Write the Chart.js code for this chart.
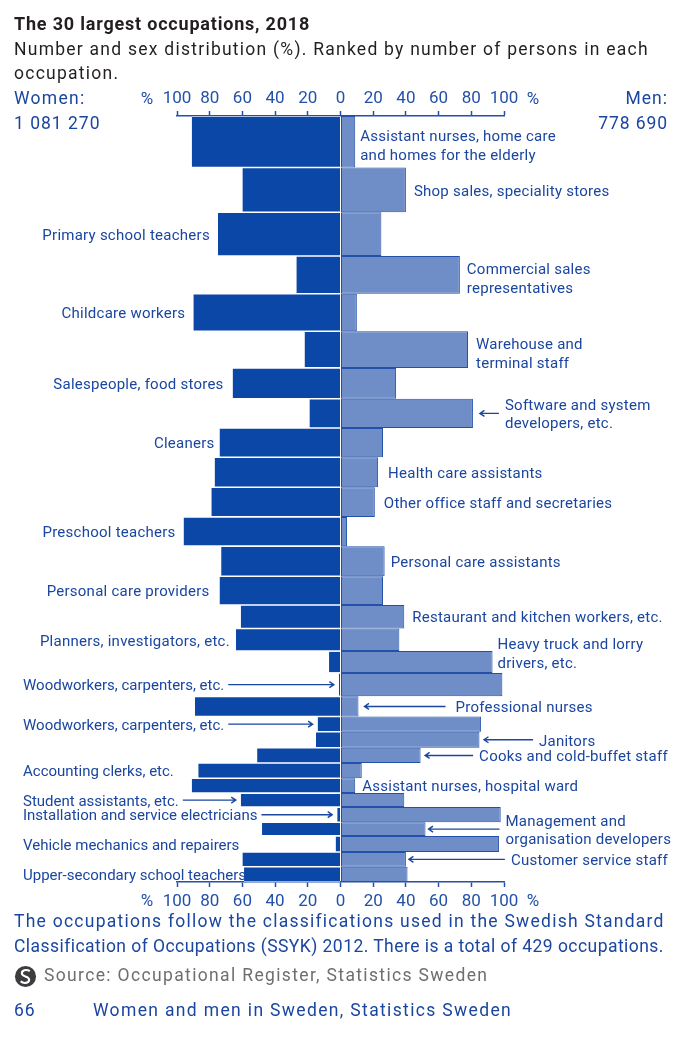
<!DOCTYPE html>
<html>
<head>
<meta charset="utf-8">
<script src="https://cdn.jsdelivr.net/npm/chart.js@4.4.1/dist/chart.umd.min.js"></script>
<style>
  html, body { margin: 0; padding: 0; background: #fff; }
  body { width: 699px; height: 1053px; position: relative; overflow: hidden; font-family: Roboto, "Noto Sans", sans-serif; }
  #wrap { position: absolute; left: 0; top: 0; width: 699px; height: 1053px; }
  .t { position: absolute; white-space: nowrap; line-height: 1; font-size: 17.5px; }
  .blue { color: #1b46a0; }
  #title { left: 14px; top: 15px; font-size: 18px; font-weight: bold; color: #231f20; letter-spacing: 0.8px; }
  #sub1 { left: 14px; top: 41px; color: #231f20; letter-spacing: 1.25px; }
  #sub2 { left: 14px; top: 65px; color: #231f20; letter-spacing: 1.25px; }
  #wLab { left: 14px; top: 90px; letter-spacing: 1.3px; }
  #wVal { left: 14px; top: 114.5px; letter-spacing: 1px; }
  #mLab { right: 31px; top: 90px; text-align: right; letter-spacing: 1px; }
  #mVal { right: 31px; top: 114.5px; text-align: right; letter-spacing: 0.9px; }
  #note1 { left: 14px; top: 913px; letter-spacing: 1.25px; }
  #note2 { left: 14px; top: 938px; letter-spacing: 0.45px; }
  #logo { position: absolute; left: 14px; top: 965px; width: 23px; height: 23px; }
  #source { left: 44px; top: 967px; color: #6d6e71; letter-spacing: 1.35px; }
  #page { left: 14px; top: 1002px; letter-spacing: 1px; }
  #pub { left: 93px; top: 1002px; letter-spacing: 1.35px; }
</style>
</head>
<body>
<div id="wrap"><canvas id="chart"></canvas></div>
<div class="t" id="title">The 30 largest occupations, 2018</div>
<div class="t" id="sub1">Number and sex distribution (%). Ranked by number of persons in each</div>
<div class="t" id="sub2">occupation.</div>
<div class="t blue" id="wLab">Women:</div>
<div class="t blue" id="wVal"></div>
<div class="t blue" id="mLab">Men:</div>
<div class="t blue" id="mVal"></div>
<div class="t blue" id="note1">The occupations follow the classifications used in the Swedish Standard</div>
<div class="t blue" id="note2">Classification of Occupations (SSYK) 2012. There is a total of 429 occupations.</div>
<svg id="logo" viewBox="0 0 24 24"><circle cx="12" cy="12" r="11" fill="#3d3d3f"/><path d="M16.5 6.5 C13 4, 7.5 5.5, 8.3 9.5 C9 12.5, 16 11.5, 15.8 15.5 C15.5 19.5, 9.5 19.5, 7 17" fill="none" stroke="#fff" stroke-width="2.2"/></svg>
<div class="t" id="source">Source: Occupational Register, Statistics Sweden</div>
<div class="t blue" id="page">66</div>
<div class="t blue" id="pub">Women and men in Sweden, Statistics Sweden</div>
<script>
// occupations, ranked by number of persons
const occupations = [
  ['Assistant nurses, home care', 'and homes for the elderly'],
  'Shop sales, speciality stores',
  'Primary school teachers',
  ['Commercial sales', 'representatives'],
  'Childcare workers',
  ['Warehouse and', 'terminal staff'],
  'Salespeople, food stores',
  ['Software and system', 'developers, etc.'],
  'Cleaners',
  'Health care assistants',
  'Other office staff and secretaries',
  'Preschool teachers',
  'Personal care assistants',
  'Personal care providers',
  'Restaurant and kitchen workers, etc.',
  'Planners, investigators, etc.',
  ['Heavy truck and lorry', 'drivers, etc.'],
  'Woodworkers, carpenters, etc.',
  'Professional nurses',
  'Woodworkers, carpenters, etc.',
  'Janitors',
  'Cooks and cold-buffet staff',
  'Accounting clerks, etc.',
  'Assistant nurses, hospital ward',
  'Student assistants, etc.',
  'Installation and service electricians',
  ['Management and', 'organisation developers'],
  'Vehicle mechanics and repairers',
  'Customer service staff',
  'Upper-secondary school teachers'
];

// number of persons (estimated from bar thickness)
const persons = [125000, 109000, 106000, 92000, 91000, 89000, 75000, 71000, 71000, 73000,
  72000, 71000, 73000, 70000, 57000, 55000, 53000, 57000, 49000, 37000,
  39000, 37000, 37000, 36000, 34000, 37000, 33000, 39000, 36000, 37000];

// sex distribution, %
const womenPct = [91, 60, 75, 27, 90, 22, 66, 19, 74, 77, 79, 96, 73, 74, 61,
  64, 7, 1, 89, 14, 15, 51, 87, 91, 61, 2, 48, 3, 60, 59];
const menPct = [9, 40, 25, 73, 10, 78, 34, 81, 26, 23, 21, 4, 27, 26, 39,
  36, 93, 99, 11, 86, 85, 49, 13, 9, 39, 98, 52, 97, 40, 41];

const tickValues = [-100, -80, -60, -40, -20, 0, 20, 40, 60, 80, 100];
const womenTotal = '1 081 270';
const menTotal = '778 690';

document.getElementById('wVal').textContent = womenTotal;
document.getElementById('mVal').textContent = menTotal;

// where each occupation label goes (side of the chart, arrows, nudges)
const labelLayout = [
  { side: 'right', gap: 5, dy: 3 },
  { side: 'right', gap: 8 },
  { side: 'left', gap: 8 },
  { side: 'right', gap: 7, dy: 3 },
  { side: 'left', gap: 8 },
  { side: 'right', gap: 8, dy: 3 },
  { side: 'left', gap: 9 },
  { side: 'right', arrow: 19, headGap: 7 },
  { side: 'left', gap: 5 },
  { side: 'right', gap: 10 },
  { side: 'right', gap: 9 },
  { side: 'left', gap: 8 },
  { side: 'right', gap: 6 },
  { side: 'left', gap: 10 },
  { side: 'right', gap: 8 },
  { side: 'left', gap: 6 },
  { side: 'right', gap: 5, dy: -9 },
  { side: 'margin', arrow: true },
  { side: 'right', arrow: 81, headGap: 6, gap: 10 },
  { side: 'margin', arrow: true },
  { side: 'right', arrow: 49 },
  { side: 'right', arrow: 48 },
  { side: 'margin' },
  { side: 'right', gap: 7 },
  { side: 'margin', arrow: true },
  { side: 'margin', arrow: true },
  { side: 'right', arrow: 71, headGap: 3 },
  { side: 'margin' },
  { side: 'right', arrow: 96, headGap: 3 },
  { side: 'margin' }
];

const textBlue = '#1b46a0';
const axisBlue = '#2350a8';
const labelFont = '15px Roboto';
const lineH = 18.5;
const textShift = 2;
const marginX = 23;

// cumulative person counts give each bar its band on the y scale
const bounds = [0];
persons.forEach(p => bounds.push(bounds[bounds.length - 1] + p));
const totalPersons = bounds[bounds.length - 1];

// centre point per occupation, with empty points on the band edges
// so the 'flex' bar thickness spans exactly edge to edge
function barData(values, sign) {
  const pts = [{ x: null, y: 0 }];
  values.forEach((v, i) => {
    pts.push({ x: sign * v, y: (bounds[i] + bounds[i + 1]) / 2 });
    pts.push({ x: null, y: bounds[i + 1] });
  });
  return pts;
}

function drawArrow(ctx, fromX, toX, y) {
  const dir = toX > fromX ? 1 : -1;
  ctx.beginPath();
  ctx.moveTo(fromX, y);
  ctx.lineTo(toX, y);
  ctx.moveTo(toX - dir * 4.5, y - 3);
  ctx.lineTo(toX, y);
  ctx.lineTo(toX - dir * 4.5, y + 3);
  ctx.stroke();
}

const labelPlugin = {
  id: 'occLabels',
  afterDatasetsDraw(chart) {
    const { ctx, scales: { x, y } } = chart;
    ctx.save();
    ctx.font = labelFont;
    ctx.fillStyle = textBlue;
    ctx.strokeStyle = textBlue;
    ctx.lineWidth = 1.4;
    ctx.textBaseline = 'middle';
    occupations.forEach((name, i) => {
      const lay = labelLayout[i];
      const lines = Array.isArray(name) ? name : [name];
      const yc = (y.getPixelForValue(bounds[i]) + y.getPixelForValue(bounds[i + 1])) / 2;
      const ty = yc + (lay.dy || 0) + textShift;
      const wEnd = x.getPixelForValue(-womenPct[i]);
      const mEnd = x.getPixelForValue(menPct[i]);
      ctx.letterSpacing = lay.side === 'margin' ? '0px' : '0.25px';
      let tx;
      if (lay.side === 'right') {
        ctx.textAlign = 'left';
        tx = mEnd + (lay.gap || 6);
        if (lay.arrow) {
          const head = mEnd + (lay.headGap || 4.5);
          const tail = head + lay.arrow;
          drawArrow(ctx, tail, head, yc);
          tx = tail + (lay.gap || 6);
        }
      } else if (lay.side === 'left') {
        ctx.textAlign = 'right';
        tx = wEnd - (lay.gap || 7);
      } else {
        ctx.textAlign = 'left';
        tx = marginX;
        if (lay.arrow) {
          const tail = tx + ctx.measureText(lines[0]).width + 4;
          drawArrow(ctx, tail, wEnd - 5, yc);
        }
      }
      lines.forEach((ln, k) => {
        ctx.fillText(ln, tx, ty + (k - (lines.length - 1) / 2) * lineH);
      });
    });
    // percent signs beside the axes
    ctx.letterSpacing = '0px';
    ctx.font = '17px Roboto';
    ctx.fillStyle = axisBlue;
    ctx.textAlign = 'center';
    const area = chart.chartArea;
    [area.top - 16.5, area.bottom + 20].forEach(py => {
      ctx.fillText('%', x.getPixelForValue(-100) - 30, py);
      ctx.fillText('%', x.getPixelForValue(100) + 29, py);
    });
    ctx.restore();
  }
};

function axisOptions(position, pad) {
  return {
    type: 'linear',
    position: position,
    min: -100,
    max: 100,
    stacked: true,
    afterBuildTicks: s => { s.ticks = tickValues.map(v => ({ value: v })); },
    afterFit: s => { s.height = 40; },
    ticks: {
      callback: v => Math.abs(v),
      color: axisBlue,
      font: { family: 'Roboto', size: 17 },
      padding: pad,
      maxRotation: 0,
      autoSkip: false
    },
    grid: { drawOnChartArea: false, drawTicks: true, tickLength: 5, tickColor: axisBlue, tickWidth: 1.5 },
    border: { display: true, color: axisBlue, width: 1.5 }
  };
}

const barCommon = {
  barThickness: 'flex',
  categoryPercentage: 2,
  barPercentage: 1,
  borderSkipped: false,
  inflateAmount: 0
};

new Chart(document.getElementById('chart'), {
  type: 'bar',
  data: {
    datasets: [
      Object.assign({
        label: 'Women',
        data: barData(womenPct, -1),
        backgroundColor: '#0b47a6',
        borderColor: '#ffffff',
        borderWidth: { top: 0.8, bottom: 0.8, left: 0, right: 0 }
      }, barCommon),
      Object.assign({
        label: 'Men',
        data: barData(menPct, 1),
        backgroundColor: '#6f8ec8',
        borderColor: '#2350a8',
        borderWidth: 1
      }, barCommon)
    ]
  },
  options: {
    indexAxis: 'y',
    responsive: true,
    maintainAspectRatio: false,
    animation: false,
    events: [],
    layout: { padding: { left: 177, right: 195, top: 76, bottom: 131 } },
    plugins: { legend: { display: false }, tooltip: { enabled: false } },
    scales: {
      x: axisOptions('bottom', 4.5),
      x2: axisOptions('top', 2),
      y: { type: 'linear', reverse: true, min: 0, max: totalPersons, stacked: true, offset: false, display: false }
    }
  },
  plugins: [labelPlugin]
});
</script>
</body>
</html>
